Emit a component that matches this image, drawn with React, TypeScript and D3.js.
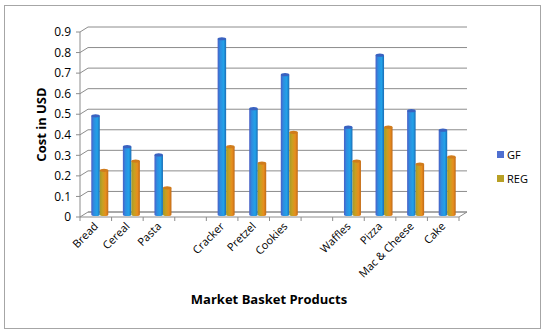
import React from "react";
import * as d3 from "d3";

// slots: empty strings are the gaps between product groups
const categories = ["Bread", "Cereal", "Pasta", "", "Cracker", "Pretzel", "Cookies", "", "Waffles", "Pizza", "Mac & Cheese", "Cake"];
const gfValues = [0.48, 0.33, 0.29, null, 0.855, 0.515, 0.68, null, 0.425, 0.775, 0.505, 0.41];
const regValues = [0.215, 0.26, 0.13, null, 0.33, 0.25, 0.4, null, 0.26, 0.425, 0.245, 0.28];
const yTicks = [0, 0.1, 0.2, 0.3, 0.4, 0.5, 0.6, 0.7, 0.8, 0.9];
const seriesNames = ["GF", "REG"];

const font = "'Open Sans', 'Liberation Sans', sans-serif";

export default function App() {
  const width = 550;
  const height = 336;
  const left = 80;
  const right = 459;
  const floorY = 217;
  const depth = { dx: 8, dy: -5 };
  const barW = 8.5;

  const x = d3.scaleBand<number>().domain(d3.range(categories.length)).range([left, right]);
  const y = d3.scaleLinear().domain([0, 0.9]).range([floorY, 32]);

  // bars stand in the middle of the depth
  const mx = depth.dx / 2;
  const my = depth.dy / 2;

  const cylinder = (cx: number, v: number, fill: string, topFill: string, key: string) => {
    const x0 = cx + mx;
    const yTop = y(v) + my;
    const yBot = floorY + my;
    const rx = barW / 2;
    const ry = 1.6;
    return (
      <g key={key}>
        <path
          d={`M${x0 - rx},${yTop} L${x0 - rx},${yBot} A${rx},${ry} 0 0 0 ${x0 + rx},${yBot} L${x0 + rx},${yTop} Z`}
          fill={fill}
        />
        <ellipse cx={x0} cy={yTop} rx={rx} ry={ry} fill={topFill} />
      </g>
    );
  };

  return (
    <svg width={width} height={height} style={{ position: "absolute", left: 0, top: 0 }}>
      <defs>
        <linearGradient id="gfGrad" x1="0" x2="1" y1="0" y2="0">
          <stop offset="0" stopColor="#4b5fc6" />
          <stop offset="0.3" stopColor="#2e8ce0" />
          <stop offset="0.7" stopColor="#22a2e8" />
          <stop offset="1" stopColor="#1a6cb6" />
        </linearGradient>
        <linearGradient id="regGrad" x1="0" x2="1" y1="0" y2="0">
          <stop offset="0" stopColor="#a29a2c" />
          <stop offset="0.35" stopColor="#c9a020" />
          <stop offset="0.7" stopColor="#e88e1e" />
          <stop offset="1" stopColor="#c06a18" />
        </linearGradient>
      </defs>
      <rect x={4.5} y={5.5} width={536} height={323} fill="#fff" stroke="#a6a6a6" strokeWidth={1} />

      {/* back wall gridlines and side wall diagonals */}
      {yTicks.map((t) => (
        <g key={`g${t}`}>
          <line x1={left + depth.dx} x2={right + depth.dx} y1={y(t) + depth.dy} y2={y(t) + depth.dy} stroke="#8c8c8c" strokeWidth={1} />
          <line x1={left} x2={left + depth.dx} y1={y(t)} y2={y(t) + depth.dy} stroke="#8c8c8c" strokeWidth={1} />
          <line x1={left - 4} x2={left} y1={y(t)} y2={y(t)} stroke="#8c8c8c" strokeWidth={1} />
          <text x={left - 9} y={y(t)} dy="0.35em" textAnchor="end" fontFamily={font} fontSize={12} fill="#000">
            {t === 0 ? "0" : d3.format(".1f")(t)}
          </text>
        </g>
      ))}
      <line x1={left} x2={left} y1={y(0.9)} y2={floorY} stroke="#8c8c8c" strokeWidth={1} />

      {/* floor */}
      <path
        d={`M${left},${floorY} L${right},${floorY} L${right + depth.dx},${floorY + depth.dy} L${left + depth.dx},${floorY + depth.dy}`}
        fill="none"
        stroke="#8c8c8c"
        strokeWidth={1}
      />
      {d3.range(categories.length + 1).map((i) => {
        const tx = i < categories.length ? (x(i) as number) : right;
        return <line key={`t${i}`} x1={tx} x2={tx} y1={floorY} y2={floorY + 4} stroke="#8c8c8c" strokeWidth={1} />;
      })}

      {/* bars */}
      {categories.map((c, i) => {
        const cx = (x(i) as number) + x.bandwidth() / 2;
        const g = gfValues[i];
        const r = regValues[i];
        return (
          <g key={`b${i}`}>
            {g != null && cylinder(cx - barW / 2, g, "url(#gfGrad)", "#3a62c0", `gf${i}`)}
            {r != null && cylinder(cx + barW / 2, r, "url(#regGrad)", "#d07c1c", `rg${i}`)}
          </g>
        );
      })}

      {/* category labels */}
      {categories.map((c, i) =>
        c ? (
          <text
            key={`l${i}`}
            transform={`translate(${(x(i) as number) + x.bandwidth() / 2 + 3},${floorY + 10}) rotate(-45)`}
            textAnchor="end"
            fontFamily={font}
            fontSize={11}
            fill="#000"
          >
            {c}
          </text>
        ) : null
      )}

      <text
        transform={`translate(46,${(y(0.9) + floorY) / 2}) rotate(-90)`}
        textAnchor="middle"
        fontFamily={font}
        fontSize={13}
        fontWeight="bold"
        fill="#000"
      >
        Cost in USD
      </text>
      <text x={269} y={304} textAnchor="middle" fontFamily={font} fontSize={13} fontWeight="bold" fill="#000">
        Market Basket Products
      </text>

      {/* legend */}
      {seriesNames.map((s, i) => (
        <g key={s} transform={`translate(497,${155 + i * 24})`}>
          <rect x={0} y={-4} width={7} height={7} fill={i === 0 ? "#4f6fd0" : "#b8a025"} />
          <text x={10} y={0} dy="0.35em" fontFamily={font} fontSize={11} fill="#000">
            {s}
          </text>
        </g>
      ))}
    </svg>
  );
}
